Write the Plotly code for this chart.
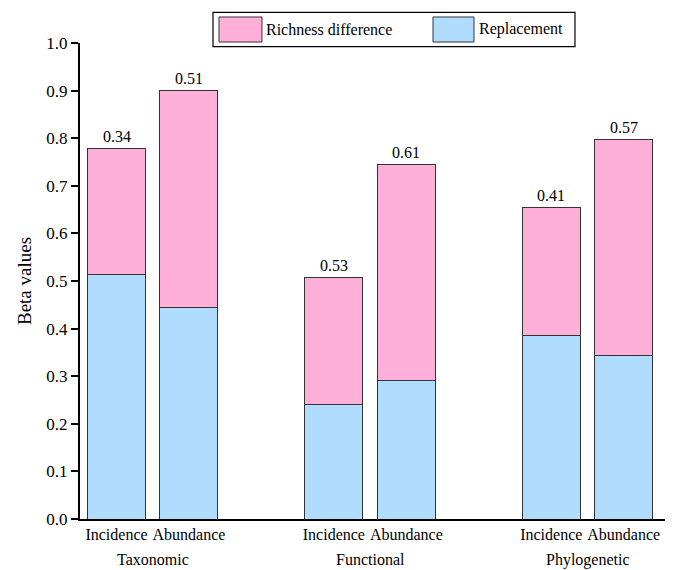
import plotly.graph_objects as go

groups = ["Taxonomic", "Functional", "Phylogenetic"]
methods = ["Incidence", "Abundance"]
replacement = [0.513, 0.444, 0.240, 0.290, 0.386, 0.343]
richness_diff = [0.266, 0.457, 0.268, 0.455, 0.269, 0.455]
ratio_labels = ["0.34", "0.51", "0.53", "0.61", "0.41", "0.57"]
y_ticks = [0.0, 0.1, 0.2, 0.3, 0.4, 0.5, 0.6, 0.7, 0.8, 0.9, 1.0]
series_names = ["Richness difference", "Replacement"]

FONT = "Liberation Serif, Times New Roman, serif"
pink = "#FFB0D8"
blue = "#B0DCFF"
edge = "#333333"

# positions: groups separated by 3 units, methods 1 unit apart
xpos = []
xlab = []
for gi, g in enumerate(groups):
    for mi, m in enumerate(methods):
        xpos.append(gi * 3 + mi)
        xlab.append(m)

fig = go.Figure()
fig.add_trace(go.Bar(
    x=xpos, y=replacement, name=series_names[1], width=0.8,
    marker=dict(color=blue, line=dict(color=edge, width=1)),
    showlegend=False,
))
fig.add_trace(go.Bar(
    x=xpos, y=richness_diff, name=series_names[0], width=0.8,
    marker=dict(color=pink, line=dict(color=edge, width=1)),
    showlegend=False,
))

totals = [a + b for a, b in zip(replacement, richness_diff)]
for x, t, lab in zip(xpos, totals, ratio_labels):
    fig.add_annotation(x=x, y=t, text=lab, showarrow=False, yanchor="bottom",
                       yshift=1, font=dict(family=FONT, size=16, color="black"))

for gi, g in enumerate(groups):
    fig.add_annotation(x=gi * 3 + 0.5, y=0, yref="y", text=g, showarrow=False,
                       yanchor="top", yshift=-30,
                       font=dict(family=FONT, size=16, color="black"))

# legend drawn as a boxed key (paper coordinates)
fig.add_shape(type="rect", xref="paper", yref="paper",
              x0=0.2243, x1=0.8347, y0=0.9922, y1=1.0644,
              line=dict(color="black", width=1.2), fillcolor="white")
legend_items = [(series_names[0], pink, 0.2344, 0.3069, 0.3103),
                (series_names[1], blue, 0.5953, 0.6644, 0.6695)]
for name, col, px0, px1, tx in legend_items:
    fig.add_shape(type="rect", xref="paper", yref="paper",
                  x0=px0, x1=px1, y0=1.0021, y1=1.0546,
                  line=dict(color=edge, width=1), fillcolor=col)
    fig.add_annotation(xref="paper", yref="paper", x=tx, y=1.0285,
                       xanchor="left", yanchor="middle", text=name,
                       showarrow=False,
                       font=dict(family=FONT, size=16, color="black"))

fig.update_layout(
    width=665, height=562,
    barmode="stack",
    paper_bgcolor="white", plot_bgcolor="white",
    margin=dict(l=72, r=0, t=35, b=51),
    font=dict(family=FONT, size=16, color="black"),
    showlegend=False,
    xaxis=dict(
        range=[-0.504, 7.68], tickvals=xpos, ticktext=xlab,
        showline=True, linecolor="black", linewidth=2,
        ticks="", showgrid=False, zeroline=False, automargin=False,
        tickfont=dict(family=FONT, size=16, color="black"),
    ),
    yaxis=dict(
        range=[0, 1.0], tickvals=y_ticks, tickformat=".1f",
        showline=True, linecolor="black", linewidth=2,
        ticks="outside", ticklen=7, tickwidth=2, tickcolor="black",
        showgrid=False, zeroline=False, automargin=False,
        tickfont=dict(family=FONT, size=17, color="black"),
        title=dict(text="Beta values", standoff=10,
                   font=dict(family=FONT, size=19, color="black")),
    ),
)

fig.write_html("out.html")
